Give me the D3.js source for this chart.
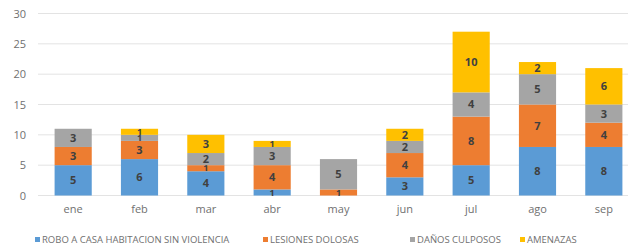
<!DOCTYPE html>
<html><head><meta charset="utf-8">
<script src="https://cdn.jsdelivr.net/npm/d3@7"></script>
<style>body{margin:0;background:#fff;}svg{display:block;font-family:"Open Sans",Calibri,sans-serif;}</style>
</head><body>
<script>
const months = ["ene","feb","mar","abr","may","jun","jul","ago","sep"];
const seriesNames = ["ROBO A CASA HABITACION SIN VIOLENCIA","LESIONES DOLOSAS","DAÑOS CULPOSOS","AMENAZAS"];
const robo     = [5,6,4,1,0,3,5,8,8];
const lesiones = [3,3,1,4,1,4,8,7,4];
const danos    = [3,1,2,3,5,2,4,5,3];
const amenazas = [0,1,3,1,0,2,10,2,6];
const yTicks = [0,5,10,15,20,25,30];
const colors = ["#5B9BD5","#ED7D31","#A5A5A5","#FFC000"];

const W=628,H=246;
const svg=d3.select("body").append("svg").attr("width",W).attr("height",H);
const x=d3.scaleBand().domain(months).range([40,637]).paddingInner(0.44).paddingOuter(0.22);
const y=d3.scaleLinear().domain([0,30]).range([195.5,13.5]);

const keys=["robo","lesiones","danos","amenazas"];
const table=months.map((m,i)=>({m,robo:robo[i],lesiones:lesiones[i],danos:danos[i],amenazas:amenazas[i]}));
const stack=d3.stack().keys(keys)(table);

// grid
svg.append("g").selectAll("line").data(yTicks).join("line")
 .attr("x1",38).attr("x2",628).attr("y1",d=>y(d)).attr("y2",d=>y(d))
 .attr("stroke","#e3e3e3").attr("stroke-width",1);

const yAxis=d3.axisLeft(y).tickValues(yTicks).tickSize(0).tickPadding(0);
const ya=svg.append("g").attr("transform","translate(26,0)").call(yAxis);
ya.select(".domain").remove();
ya.selectAll("text").attr("fill","#707070").style("font-size","11px").style("font-family","Open Sans, sans-serif");

const xAxis=d3.axisBottom(x).tickSize(0).tickPadding(0);
const xa=svg.append("g").attr("transform","translate(0,205)").call(xAxis);
xa.select(".domain").remove();
xa.selectAll("text").attr("fill","#707070").style("font-size","11px").style("font-family","Open Sans, sans-serif");

const layers=svg.append("g").selectAll("g").data(stack).join("g").attr("fill",(d,i)=>colors[i]);
layers.selectAll("rect").data(d=>d).join("rect")
 .attr("x",d=>x(d.data.m)).attr("width",x.bandwidth())
 .attr("y",d=>y(d[1])).attr("height",d=>y(d[0])-y(d[1]));

layers.each(function(s){
  d3.select(this).selectAll("text").data(s.filter(d=>d[1]-d[0]>0)).join("text")
   .attr("x",d=>x(d.data.m)+x.bandwidth()/2)
   .attr("y",d=>(y(d[0])+y(d[1]))/2)
   .attr("dy","0.36em").attr("text-anchor","middle")
   .attr("fill","#404040").style("font-size",d=>(d[1]-d[0])<2?"9px":"11px").style("font-weight","bold")
   .text(d=>d[1]-d[0]);
});

// legend
const legX=[35,263,410,520];
const lg=svg.append("g").selectAll("g").data(seriesNames).join("g")
 .attr("transform",(d,i)=>`translate(${legX[i]},240)`);
lg.append("rect").attr("x",0).attr("y",-3).attr("width",5).attr("height",5).attr("fill",(d,i)=>colors[i]);
lg.append("text").attr("x",7).attr("y",0).attr("dy","0.35em")
 .attr("fill","#707070").style("font-size","9.5px").text(d=>d);
</script>
</body></html>
